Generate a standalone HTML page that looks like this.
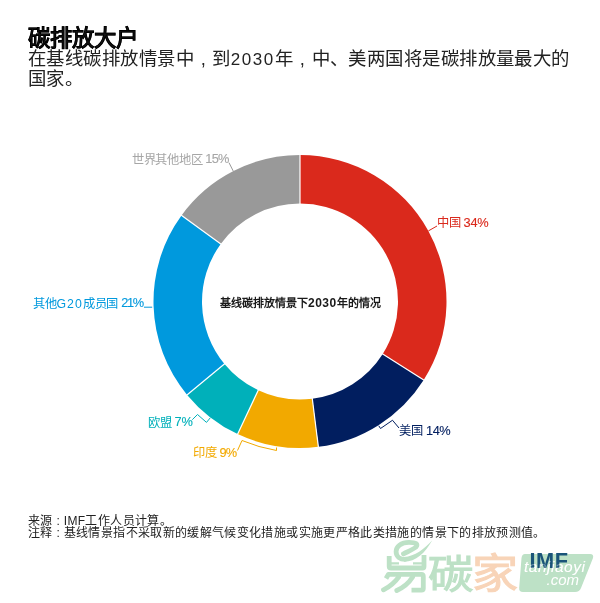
<!DOCTYPE html>
<html lang="zh-CN"><head><meta charset="utf-8">
<style>
html,body{margin:0;padding:0;background:#fff;}
body{width:600px;height:603px;position:relative;overflow:hidden;font-family:"Liberation Sans",sans-serif;color:#1a1a1a;}
.a{position:absolute;white-space:nowrap;will-change:transform;}
#t1{left:27.5px;top:26.5px;font-size:22.4px;font-weight:bold;-webkit-text-stroke:0.2px #000;line-height:24px;}
#t2{left:27.5px;top:50px;font-size:18.4px;letter-spacing:0.44px;line-height:18.9px;color:#222;}
.c{display:inline-block;width:18.44px;text-align:center;letter-spacing:0;}
.d{letter-spacing:1.5px;font-size:17px;}
.p{font-size:12.8px;position:relative;top:-0.6px;letter-spacing:-0.2px;-webkit-text-stroke:0.12px currentColor;}
.cc{display:inline-block;width:11px;text-align:center;letter-spacing:0;}
.wm{position:absolute;white-space:nowrap;font-weight:bold;line-height:1;}
.lb{position:absolute;white-space:nowrap;will-change:transform;font-size:12.3px;letter-spacing:-0.3px;line-height:14px;}
#ctr{left:220px;top:296px;font-size:11px;font-weight:bold;line-height:14px;}
#fn{left:28px;top:514.5px;font-size:12px;letter-spacing:0.36px;line-height:12.3px;color:#222;}
svg{position:absolute;left:0;top:0;}
</style></head><body>
<svg width="600" height="603" viewBox="0 0 600 603">
<path d="M300.00,155.00A146.5,146.5 0 0 1 423.69,380.00L382.74,354.01A98,98 0 0 0 300.00,203.50Z" fill="#da291c"/>
<path d="M423.69,380.00A146.5,146.5 0 0 1 318.36,446.84L312.28,398.73A98,98 0 0 0 382.74,354.01Z" fill="#011e5f"/>
<path d="M318.36,446.84A146.5,146.5 0 0 1 237.62,434.06L258.27,390.17A98,98 0 0 0 312.28,398.73Z" fill="#f2a900"/>
<path d="M237.62,434.06A146.5,146.5 0 0 1 187.12,394.88L224.49,363.97A98,98 0 0 0 258.27,390.17Z" fill="#00b0ba"/>
<path d="M187.12,394.88A146.5,146.5 0 0 1 181.48,215.39L220.72,243.90A98,98 0 0 0 224.49,363.97Z" fill="#0099dd"/>
<path d="M181.48,215.39A146.5,146.5 0 0 1 300.00,155.00L300.00,203.50A98,98 0 0 0 220.72,243.90Z" fill="#999999"/>
<g stroke="#fff" stroke-width="1.2"><line x1="300.00" y1="204.50" x2="300.00" y2="154.00"/><line x1="381.90" y1="353.48" x2="424.54" y2="380.53"/><line x1="312.16" y1="397.74" x2="318.49" y2="447.84"/><line x1="258.70" y1="389.27" x2="237.20" y2="434.96"/><line x1="225.26" y1="363.33" x2="186.35" y2="395.52"/><line x1="221.53" y1="244.48" x2="180.67" y2="214.80"/></g>
<g fill="none" stroke-width="1">
<polyline points="229,162.7 233.3,171.2" stroke="#999"/>
<polyline points="437,226 428.4,230.9" stroke="#da291c"/>
<polyline points="378.75,425.75 380.5,428.5 392.5,420.25 399,428" stroke="#011e5f"/>
<polyline points="237.5,450.5 242,440.5 259,446.5 276.5,450.5 276.5,447.5" stroke="#f2a900"/>
<polyline points="192.3,419.7 197.5,414.5 206.5,422.4 210.3,417.8" stroke="#00b0ba"/>
<polyline points="144,307.2 152.2,307.2" stroke="#0099dd"/>
</g>
</svg>
<div class="a" id="t1">碳排放大户</div>
<div class="a" id="t2">在基线碳排放情景中<span class="c">,</span>到<span class="d">2030</span>年<span class="c">,</span>中、美两国将是碳排放量最大的<br>国家。</div>
<div class="lb" style="left:132px;top:152.6px;color:#a6a6a6">世界其他地区 <span class="p" style="letter-spacing:-0.8px">15%</span></div>
<div class="lb" style="left:437px;top:215.6px;color:#da291c">中国 <span class="p" style="top:0.3px">34%</span></div>
<div class="lb" style="left:399px;top:423.6px;color:#011e5f">美国 <span class="p" style="top:0.3px;letter-spacing:-0.5px;margin-left:0.5px">14%</span></div>
<div class="lb" style="left:193px;top:445.6px;color:#f2a900">印度 <span class="p" style="top:0.3px;letter-spacing:-0.9px">9%</span></div>
<div class="lb" style="left:147.5px;top:415.6px;color:#00b0ba">欧盟 <span class="p">7%</span></div>
<div class="lb" style="left:32.5px;top:296.6px;color:#0099dd">其他<span style="letter-spacing:1.1px">G20</span>成员国 <span class="p" style="letter-spacing:-1.3px">21%</span></div>
<div class="a" id="ctr">基线碳排放情景下<span style="font-size:12px;letter-spacing:0.5px">2030</span>年的情况</div>
<div class="a" id="fn">来源<span class="cc">:</span>IMF工作人员计算。<br>注释<span class="cc">:</span>基线情景指不采取新的缓解气候变化措施或实施更严格此类措施的情景下的排放预测值。</div>
<svg width="600" height="603" style="position:absolute;left:0;top:0">
<g fill="none" stroke="#bde1c6" stroke-width="4.8" stroke-linecap="round" stroke-linejoin="round">
<path d="M403.5,553.8 C408,551.5 413,549.5 416,547 C418.5,544 416,542.4 409,542.4 C401,542.4 396.1,546.5 396.1,551.5 C396.1,556.5 400,559.4 405,559.4"/>
<path d="M389.2,556 L389.2,566.5 Q389.2,568 391,568 L422.5,568 Q424,568 424,566.5 L424,555" stroke-linecap="butt"/>
<path d="M386,578.5 L388.5,574.3 L421.5,574.3 Q423.3,574.3 423.3,576.5 L423.3,588.5 Q423.3,590.2 421.5,590.2 L411.5,590.2" stroke-linecap="butt"/>
<path d="M398.8,576.8 Q393,585 383.5,589.8"/>
<path d="M412.8,576.8 Q407,586 396.8,590.5"/>
</g>
<g fill="#bde1c6">
<path d="M404,561.8 C416,561.8 425,553 432.3,540.3 C424,549 415,556.5 404,557Z"/>
<path d="M391,562.3 L399,562.3 L399,564.6 L391,564.6Z M413,562.3 L422,562.3 L422,564.6 L413,564.6Z"/>
</g>
</svg>
<div class="wm" style="left:0;top:0;font-size:45.4px;font-weight:500;-webkit-text-stroke:1.2px #bde1c6;color:#bde1c6;transform-origin:0 0;transform:translate(427.5px,555.3px) scaleY(0.86)">碳</div>
<div class="wm" style="left:0;top:0;font-size:46px;font-weight:500;-webkit-text-stroke:1.2px #f8d4b8;color:#f8d4b8;transform-origin:0 0;transform:translate(471.7px,553px) scaleY(0.9)">家</div>
<svg width="600" height="603" style="position:absolute;left:0;top:0">
<path d="M525,554 L590,554 Q594,554 593,558 L581,588 Q579.5,592 575,592 L523,592 Q518.8,592 519.2,588 L521.5,558 Q522,554 525,554 Z" fill="#bde1c6"/>
<text x="524" y="572" font-family="Liberation Sans" font-style="italic" font-size="15.5" fill="#fff" letter-spacing="0.5">tanjiaoyi</text>
<text x="546.5" y="585" font-family="Liberation Sans" font-style="italic" font-size="15" fill="#fff">.com</text>
<text x="529.5" y="568" font-family="Liberation Sans" font-weight="bold" font-size="21.8" letter-spacing="0.5" fill="#1a5479">IMF</text>
<g opacity="0.35"><text x="524" y="572" font-family="Liberation Sans" font-style="italic" font-size="15.5" fill="#fff" letter-spacing="0.5">tanjiaoyi</text></g>
</svg>
</body></html>
